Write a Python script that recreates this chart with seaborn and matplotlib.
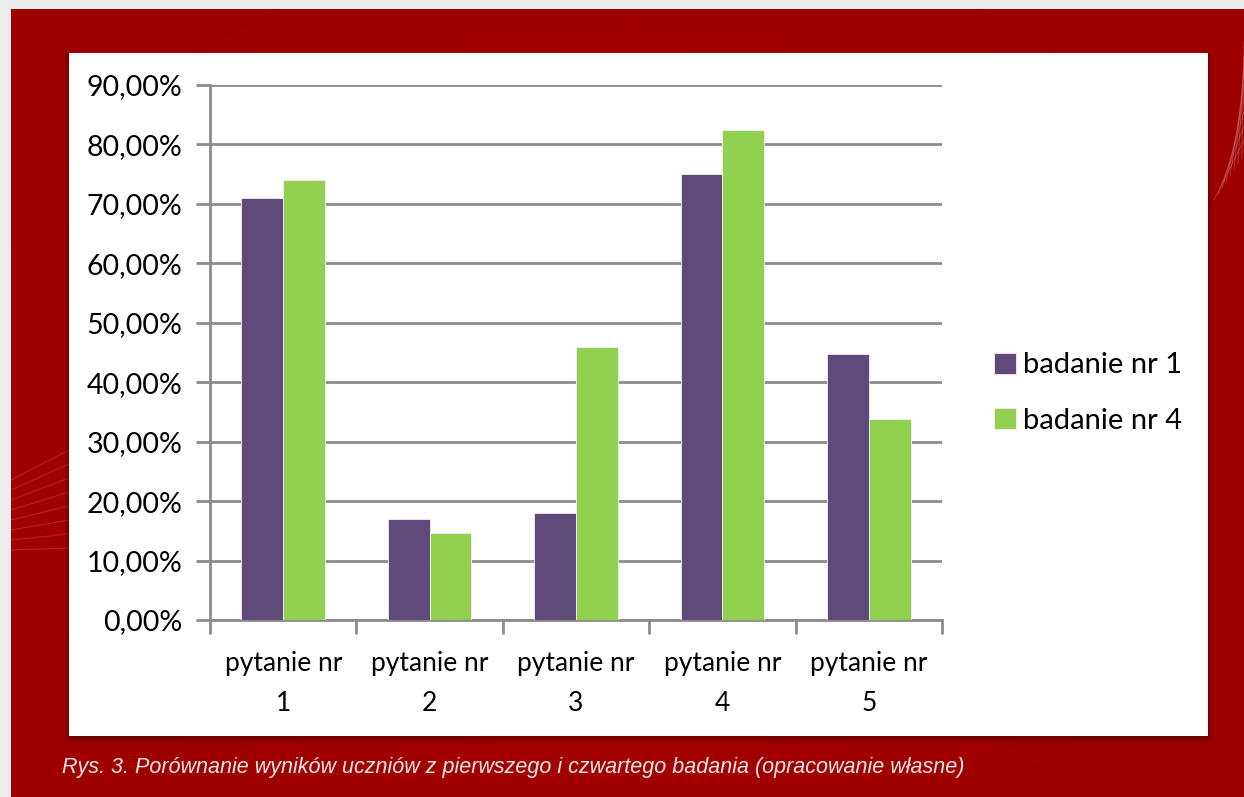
import numpy as np
import pandas as pd
import matplotlib
matplotlib.use("Agg")
import matplotlib.pyplot as plt
import seaborn as sns
from matplotlib.ticker import FuncFormatter, FixedLocator
from matplotlib.patches import Rectangle

questions = ["pytanie nr\n1", "pytanie nr\n2", "pytanie nr\n3", "pytanie nr\n4", "pytanie nr\n5"]
series_names = ["badanie nr 1", "badanie nr 4"]
badanie_1 = [0.71, 0.17, 0.18, 0.75, 0.448]
badanie_4 = [0.74, 0.146, 0.46, 0.825, 0.338]
caption = "Rys. 3. Porównanie wyników uczniów z pierwszego i czwartego badania (opracowanie własne)"

purple = "#604A7B"
green = "#92D050"

df = pd.DataFrame({
    "pytanie": questions * 2,
    "wartosc": badanie_1 + badanie_4,
    "seria": [series_names[0]] * 5 + [series_names[1]] * 5,
})

sns.set_theme(style="white")
plt.rcParams["font.family"] = ["Lato", "DejaVu Sans"]
plt.rcParams["text.color"] = "black"

W, H = 1244, 797
fig = plt.figure(figsize=(W / 100, H / 100), dpi=100)
fig.patch.set_facecolor("#ededed")

# background
bg = fig.add_axes([0, 0, 1, 1])
bg.set_xlim(0, W)
bg.set_ylim(H, 0)
bg.axis("off")
xx = np.linspace(-1, 1, 400)
yy = np.linspace(-1, 1, 260)
X, Y = np.meshgrid(xx, yy)
r = np.sqrt((X * 0.9) ** 2 + (Y * 0.8) ** 2)
c1 = np.array([0.69, 0.0, 0.0])
c2 = np.array([0.62, 0.0, 0.0])
t = np.clip(r, 0, 1)[..., None]
img = c1 * (1 - t) + c2 * t
bg.imshow(img, extent=[11, W, H, 9], aspect="auto", zorder=0)
# decorative faint lines
for k in range(8):
    bg.plot([1214 + k * 4, 1244], [200 - k * 6, 140 - k * 14], color="white", alpha=0.18, lw=0.8, zorder=1)
    bg.plot([11, 69], [480 + k * 10, 450 + k * 14], color="white", alpha=0.15, lw=0.8, zorder=1)
# shadow
for i, a in enumerate([0.10, 0.08, 0.06, 0.04, 0.02]):
    d = 2 + i * 2
    bg.add_patch(Rectangle((69 - d / 2, 53), 1139 + d, 683 + d, facecolor="black", alpha=a, lw=0, zorder=2))
bg.add_patch(Rectangle((69, 53), 1139, 683, facecolor="white", lw=0, zorder=3))
bg.text(62, 768, caption, color="#f3e6e6", fontsize=15.5, style="italic",
        family=["Liberation Sans Narrow", "Liberation Sans", "DejaVu Sans"], va="center", ha="left", zorder=4)

# main axes
left, right, top, bottom = 210, 942, 85, 620
ax = fig.add_axes([left / W, 1 - bottom / H, (right - left) / W, (bottom - top) / H])
ax.set_facecolor("white")
sns.barplot(data=df, x="pytanie", y="wartosc", hue="seria", palette=[purple, green],
            saturation=1, width=0.57, gap=0, ax=ax, edgecolor="#f4f0f8", linewidth=0.6, zorder=3)
ax.set_ylim(0, 0.9)
ax.set_xlim(-0.5, 4.5)
ax.set_yticks(np.arange(0, 0.91, 0.1))
ax.yaxis.set_major_formatter(FuncFormatter(lambda v, p: f"{v*100:.2f}%".replace(".", ",")))
ax.grid(axis="y", color="#8c8c8c", lw=2, zorder=0)
ax.set_axisbelow(True)
for s in ["top", "right"]:
    ax.spines[s].set_visible(False)
for s in ["left", "bottom"]:
    ax.spines[s].set_color("#8c8c8c")
    ax.spines[s].set_linewidth(2)
ax.set_xlabel("")
ax.set_ylabel("")
ax.tick_params(axis="y", length=10, width=2, color="#8c8c8c", labelsize=20.5, pad=10, left=True, labelcolor="black")
ax.tick_params(axis="x", which="major", length=0, labelsize=19, pad=22, labelcolor="black")
ax.xaxis.set_minor_locator(FixedLocator(np.arange(-0.5, 4.6, 1)))
ax.tick_params(axis="x", which="minor", length=10, width=2, color="#8c8c8c", bottom=True)
for lbl in ax.get_xticklabels():
    lbl.set_linespacing(1.75)

handles, labels = ax.get_legend_handles_labels()
ax.get_legend().remove()
fig.legend(handles, labels, loc="center left", bbox_to_anchor=(982 / W, 1 - 393 / H),
           frameon=False, fontsize=21, handlelength=0.75, handleheight=0.75,
           handletextpad=0.25, labelspacing=1.0, borderaxespad=0, labelcolor="black")

fig.savefig("out.png", dpi=100)
